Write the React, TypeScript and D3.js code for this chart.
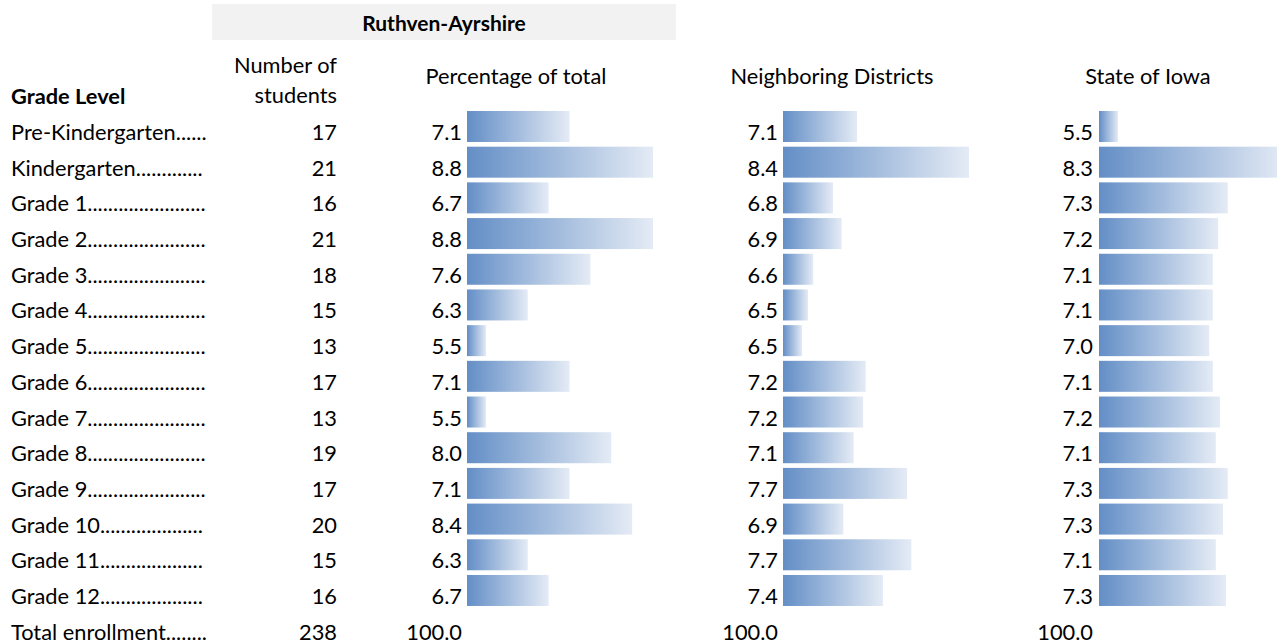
import React, { useEffect, useRef } from 'react';
import * as d3 from 'd3';

const grades = ['Pre-Kindergarten', 'Kindergarten', 'Grade 1', 'Grade 2', 'Grade 3', 'Grade 4', 'Grade 5', 'Grade 6', 'Grade 7', 'Grade 8', 'Grade 9', 'Grade 10', 'Grade 11', 'Grade 12'];
const students = [17, 21, 16, 21, 18, 15, 13, 17, 13, 19, 17, 20, 15, 16];
const pctOfTotal = [7.14, 8.82, 6.72, 8.82, 7.56, 6.3, 5.46, 7.14, 5.46, 7.98, 7.14, 8.4, 6.3, 6.72];
const neighboring = [7.1, 8.4, 6.82, 6.92, 6.59, 6.53, 6.46, 7.2, 7.17, 7.06, 7.68, 6.94, 7.73, 7.4];
const stateIowa = [5.5, 8.3, 7.34, 7.18, 7.09, 7.09, 7.03, 7.09, 7.21, 7.14, 7.34, 7.26, 7.14, 7.31];
const totalLabel = 'Total enrollment';
const totalStudents = 238;
const totalPercent = [100.0, 100.0, 100.0];
const districtName = 'Ruthven-Ayrshire';
const columnHeaders = ['Percentage of total', 'Neighboring Districts', 'State of Iowa'];

const FONT = 'Lato, "Liberation Sans", sans-serif';
const FS = 21.8;

export default function App() {
  const ref = useRef<SVGSVGElement | null>(null);

  useEffect(() => {
    const svg = d3.select(ref.current);
    svg.selectAll('*').remove();

    const defs = svg.append('defs');
    const grad = defs.append('linearGradient').attr('id', 'barGrad').attr('x1', 0).attr('x2', 1).attr('y1', 0).attr('y2', 0);
    grad.append('stop').attr('offset', '0%').attr('stop-color', '#638EC6');
    grad.append('stop').attr('offset', '100%').attr('stop-color', '#E4EBF5');

    const rowTop = d3.scaleLinear().domain([0, 1]).range([111, 146.69]);
    const barH = 31;
    const baseline = (i: number) => rowTop(i) + 29;

    const g = svg.append('g').attr('font-family', FONT).attr('font-size', FS).attr('fill', '#000');

    // header band
    g.append('rect').attr('x', 212).attr('y', 4).attr('width', 464).attr('height', 36).attr('fill', '#F2F2F2');
    g.append('text').attr('x', 444).attr('y', 31).attr('text-anchor', 'middle').attr('font-weight', 'bold').attr('font-size', 21).text(districtName);

    g.append('text').attr('x', 337).attr('y', 73).attr('text-anchor', 'end').text('Number of');
    g.append('text').attr('x', 337).attr('y', 103).attr('text-anchor', 'end').text('students');
    g.append('text').attr('x', 11).attr('y', 104).attr('font-weight', 'bold').text('Grade Level');

    const headerX = [516, 832, 1148];
    columnHeaders.forEach((h, k) => {
      g.append('text').attr('x', headerX[k]).attr('y', 84).attr('text-anchor', 'middle').text(h);
    });

    // labels with dot leaders
    const allLabels = [...grades, totalLabel];
    const leaderEnd = 207;
    allLabels.forEach((lab, i) => {
      const t = g.append('text').attr('x', 11).attr('y', baseline(i)).text(lab);
      const node = t.node() as SVGTextElement;
      let s = lab;
      let guard = 0;
      while (guard < 80) {
        const next = s + '.';
        node.textContent = next;
        if (11 + node.getComputedTextLength() > leaderEnd) {
          node.textContent = s;
          break;
        }
        s = next;
        guard++;
      }
    });

    // students
    [...students, totalStudents].forEach((v, i) => {
      g.append('text').attr('x', 337).attr('y', baseline(i)).attr('text-anchor', 'end').text(String(v));
    });

    const cols = [
      { values: pctOfTotal, labelX: 462, barX: 467 },
      { values: neighboring, labelX: 778, barX: 783 },
      { values: stateIowa, labelX: 1093, barX: 1099 },
    ];

    cols.forEach((c, k) => {
      const ext = d3.extent(c.values) as [number, number];
      const w = d3.scaleLinear().domain(ext).range([19, 186]);
      g.selectAll(null)
        .data(c.values)
        .enter()
        .append('rect')
        .attr('x', c.barX)
        .attr('y', (_d, i) => rowTop(i))
        .attr('width', (d) => w(d))
        .attr('height', barH)
        .attr('fill', 'url(#barGrad)');
      g.selectAll(null)
        .data(c.values)
        .enter()
        .append('text')
        .attr('x', c.labelX)
        .attr('y', (_d, i) => baseline(i))
        .attr('text-anchor', 'end')
        .text((d) => d3.format('.1f')(d));
      g.append('text')
        .attr('x', c.labelX)
        .attr('y', baseline(grades.length))
        .attr('text-anchor', 'end')
        .text(d3.format('.1f')(totalPercent[k]));
    });
  }, []);

  return (
    <svg
      ref={ref}
      width={1277}
      height={644}
      style={{ position: 'absolute', left: 0, top: 0, background: '#fff' }}
    />
  );
}
